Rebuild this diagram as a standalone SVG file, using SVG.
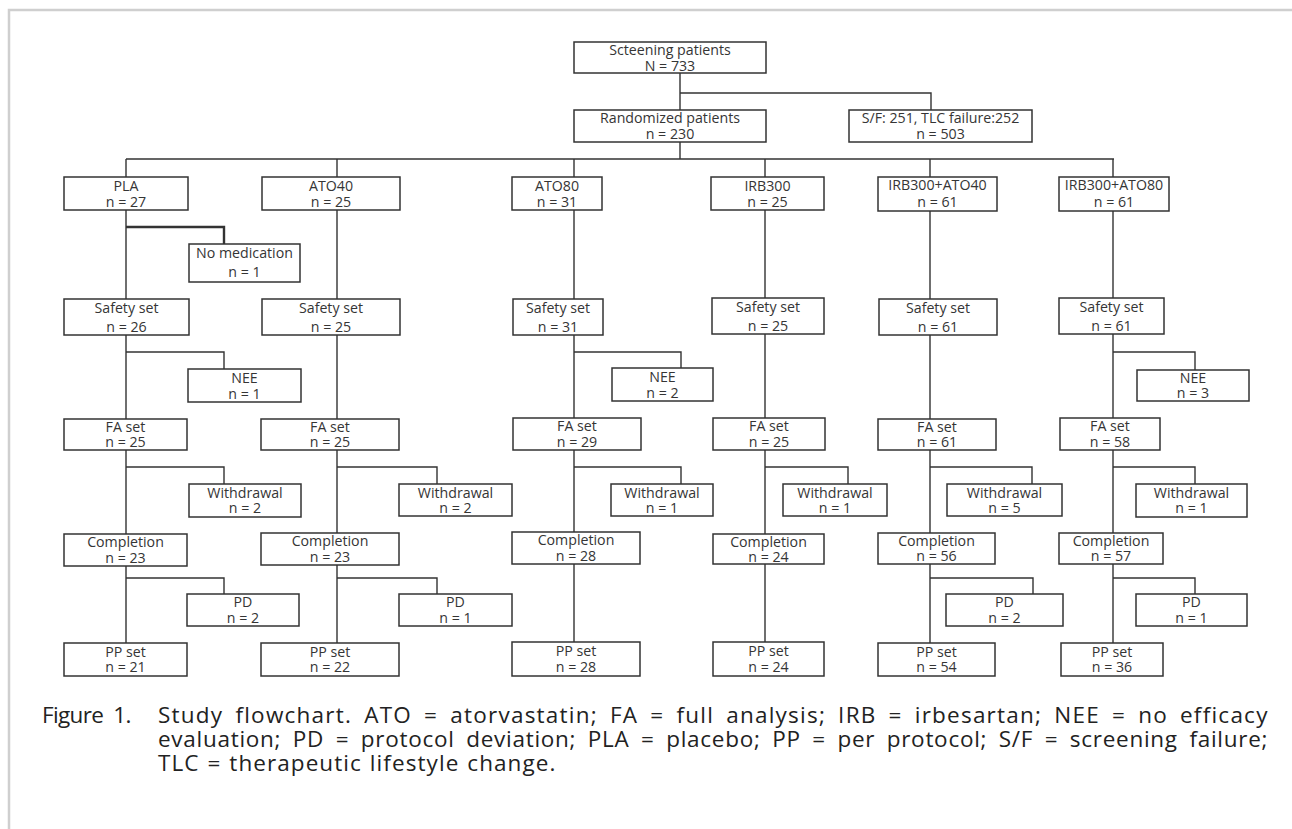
<svg xmlns="http://www.w3.org/2000/svg" width="1292" height="829" viewBox="0 0 1292 829">
<style>
.box{fill:#fff;stroke:#333;stroke-width:1.5}
.ln{fill:none;stroke:#333;stroke-width:1.4}
.thick{stroke-width:2.4}
text.t{font-family:"Open Sans","DejaVu Sans",sans-serif;font-size:14.2px;fill:#353535;text-anchor:middle}
text.cap{font-family:"Open Sans","DejaVu Sans",sans-serif;font-size:22.5px;fill:#222;letter-spacing:0.6px;word-spacing:5px}
text.cap.last{word-spacing:1px}
</style>
<rect x="0" y="0" width="1292" height="829" fill="#fff"/>
<path d="M9,829 V10 H1292" fill="none" stroke="#cfcfcf" stroke-width="2.5"/>

<g id="connectors">
<path class="ln" d="M680,73 V110 M680,93 H931 V110 M680,142 V159 M126,159 H1114"/>
<path class="ln" d="M126,159 V643 M337,159 V643 M574,159 V642 M765,159 V642 M930,159 V643 M1113,159 V643"/>
<path class="ln thick" d="M126,227 H224 V244"/>
<path class="ln" d="M126,352 H224 V369 M126,467 H224 V484 M126,578 H224 V594"/>
<path class="ln" d="M337,467 H437 V484 M337,578 H437 V594"/>
<path class="ln" d="M574,352 H681 V368 M574,467 H681 V484"/>
<path class="ln" d="M765,467 H848 V484"/>
<path class="ln" d="M930,467 H1032 V484 M930,578 H1033 V594"/>
<path class="ln" d="M1113,352 H1195 V370 M1113,467 H1195 V484 M1113,578 H1195 V594"/>
</g>

<g id="screening"><rect class="box" x="574" y="42" width="192" height="31"/><text class="t" x="670" y="54.5">Scteening patients</text><text class="t" x="670" y="70.5">N = 733</text></g>
<g id="randomized"><rect class="box" x="574" y="110" width="192" height="32"/><text class="t" x="670" y="123">Randomized patients</text><text class="t" x="670" y="139">n = 230</text></g>
<g id="sf"><rect class="box" x="849" y="110" width="183" height="32"/><text class="t" x="940.5" y="123">S/F: 251, TLC failure:252</text><text class="t" x="940.5" y="139">n = 503</text></g>

<g id="pla"><rect class="box" x="64" y="177" width="124" height="33"/><text class="t" x="126" y="190.5">PLA</text><text class="t" x="126" y="206.5">n = 27</text></g>
<g id="pla-nomed"><rect class="box" x="189" y="244" width="111" height="38"/><text class="t" x="244.5" y="258">No medication</text><text class="t" x="244.5" y="277">n = 1</text></g>
<g id="pla-safety"><rect class="box" x="64" y="299" width="125" height="36"/><text class="t" x="126.5" y="313">Safety set</text><text class="t" x="126.5" y="332">n = 26</text></g>
<g id="pla-nee"><rect class="box" x="188" y="369" width="113" height="33"/><text class="t" x="244.5" y="382.5">NEE</text><text class="t" x="244.5" y="398.5">n = 1</text></g>
<g id="pla-fa"><rect class="box" x="64" y="419" width="123" height="31"/><text class="t" x="125.5" y="432">FA set</text><text class="t" x="125.5" y="447">n = 25</text></g>
<g id="pla-wd"><rect class="box" x="189" y="484" width="112" height="33"/><text class="t" x="245" y="497.5">Withdrawal</text><text class="t" x="245" y="513">n = 2</text></g>
<g id="pla-comp"><rect class="box" x="64" y="534" width="123" height="32"/><text class="t" x="125.5" y="547">Completion</text><text class="t" x="125.5" y="562.5">n = 23</text></g>
<g id="pla-pd"><rect class="box" x="187" y="594" width="112" height="32"/><text class="t" x="243" y="606.5">PD</text><text class="t" x="243" y="622.5">n = 2</text></g>
<g id="pla-pp"><rect class="box" x="64" y="643" width="123" height="33"/><text class="t" x="125.5" y="656.5">PP set</text><text class="t" x="125.5" y="672">n = 21</text></g>

<g id="ato40"><rect class="box" x="262" y="177" width="138" height="33"/><text class="t" x="331" y="190.5">ATO40</text><text class="t" x="331" y="206.5">n = 25</text></g>
<g id="ato40-safety"><rect class="box" x="262" y="299" width="138" height="36"/><text class="t" x="331" y="313">Safety set</text><text class="t" x="331" y="332">n = 25</text></g>
<g id="ato40-fa"><rect class="box" x="261" y="419" width="138" height="31"/><text class="t" x="330" y="432">FA set</text><text class="t" x="330" y="447">n = 25</text></g>
<g id="ato40-wd"><rect class="box" x="399" y="484" width="113" height="32"/><text class="t" x="455.5" y="497.5">Withdrawal</text><text class="t" x="455.5" y="512.5">n = 2</text></g>
<g id="ato40-comp"><rect class="box" x="261" y="533" width="138" height="32"/><text class="t" x="330" y="546">Completion</text><text class="t" x="330" y="561.5">n = 23</text></g>
<g id="ato40-pd"><rect class="box" x="399" y="594" width="113" height="32"/><text class="t" x="455.5" y="606.5">PD</text><text class="t" x="455.5" y="622.5">n = 1</text></g>
<g id="ato40-pp"><rect class="box" x="261" y="643" width="138" height="33"/><text class="t" x="330" y="656.5">PP set</text><text class="t" x="330" y="672">n = 22</text></g>

<g id="ato80"><rect class="box" x="512" y="177" width="90" height="33"/><text class="t" x="557" y="190.5">ATO80</text><text class="t" x="557" y="206.5">n = 31</text></g>
<g id="ato80-safety"><rect class="box" x="513" y="299" width="90" height="36"/><text class="t" x="558" y="313">Safety set</text><text class="t" x="558" y="332">n = 31</text></g>
<g id="ato80-nee"><rect class="box" x="612" y="368" width="101" height="33"/><text class="t" x="662.5" y="381.5">NEE</text><text class="t" x="662.5" y="397.5">n = 2</text></g>
<g id="ato80-fa"><rect class="box" x="513" y="418" width="128" height="32"/><text class="t" x="577" y="431">FA set</text><text class="t" x="577" y="446.5">n = 29</text></g>
<g id="ato80-wd"><rect class="box" x="611" y="484" width="102" height="32"/><text class="t" x="662" y="497.5">Withdrawal</text><text class="t" x="662" y="512.5">n = 1</text></g>
<g id="ato80-comp"><rect class="box" x="512" y="532" width="128" height="32"/><text class="t" x="576" y="545">Completion</text><text class="t" x="576" y="560.5">n = 28</text></g>
<g id="ato80-pp"><rect class="box" x="512" y="642" width="128" height="34"/><text class="t" x="576" y="655.5">PP set</text><text class="t" x="576" y="672">n = 28</text></g>

<g id="irb300"><rect class="box" x="711" y="177" width="113" height="33"/><text class="t" x="767.5" y="190.5">IRB300</text><text class="t" x="767.5" y="206.5">n = 25</text></g>
<g id="irb300-safety"><rect class="box" x="712" y="298" width="112" height="36"/><text class="t" x="768" y="312">Safety set</text><text class="t" x="768" y="331">n = 25</text></g>
<g id="irb300-fa"><rect class="box" x="713" y="418" width="112" height="32"/><text class="t" x="769" y="431">FA set</text><text class="t" x="769" y="446.5">n = 25</text></g>
<g id="irb300-wd"><rect class="box" x="783" y="484" width="104" height="32"/><text class="t" x="835" y="497.5">Withdrawal</text><text class="t" x="835" y="512.5">n = 1</text></g>
<g id="irb300-comp"><rect class="box" x="713" y="534" width="111" height="30"/><text class="t" x="768.5" y="547">Completion</text><text class="t" x="768.5" y="562">n = 24</text></g>
<g id="irb300-pp"><rect class="box" x="713" y="642" width="111" height="34"/><text class="t" x="768.5" y="655.5">PP set</text><text class="t" x="768.5" y="672">n = 24</text></g>

<g id="irb-ato40"><rect class="box" x="878" y="177" width="119" height="34"/><text class="t" x="937.5" y="190">IRB300+ATO40</text><text class="t" x="937.5" y="207">n = 61</text></g>
<g id="irb-ato40-safety"><rect class="box" x="879" y="299" width="118" height="36"/><text class="t" x="938" y="313">Safety set</text><text class="t" x="938" y="332">n = 61</text></g>
<g id="irb-ato40-fa"><rect class="box" x="878" y="419" width="118" height="31"/><text class="t" x="937" y="432">FA set</text><text class="t" x="937" y="447">n = 61</text></g>
<g id="irb-ato40-wd"><rect class="box" x="947" y="484" width="115" height="32"/><text class="t" x="1004.5" y="497.5">Withdrawal</text><text class="t" x="1004.5" y="512.5">n = 5</text></g>
<g id="irb-ato40-comp"><rect class="box" x="878" y="533" width="117" height="31"/><text class="t" x="936.5" y="546">Completion</text><text class="t" x="936.5" y="561">n = 56</text></g>
<g id="irb-ato40-pd"><rect class="box" x="946" y="594" width="117" height="32"/><text class="t" x="1004.5" y="606.5">PD</text><text class="t" x="1004.5" y="622.5">n = 2</text></g>
<g id="irb-ato40-pp"><rect class="box" x="878" y="643" width="117" height="33"/><text class="t" x="936.5" y="656.5">PP set</text><text class="t" x="936.5" y="672">n = 54</text></g>

<g id="irb-ato80"><rect class="box" x="1059" y="177" width="110" height="34"/><text class="t" x="1114" y="190">IRB300+ATO80</text><text class="t" x="1114" y="207">n = 61</text></g>
<g id="irb-ato80-safety"><rect class="box" x="1059" y="298" width="105" height="36"/><text class="t" x="1111.5" y="312">Safety set</text><text class="t" x="1111.5" y="331">n = 61</text></g>
<g id="irb-ato80-nee"><rect class="box" x="1137" y="370" width="112" height="31"/><text class="t" x="1193" y="383">NEE</text><text class="t" x="1193" y="397.5">n = 3</text></g>
<g id="irb-ato80-fa"><rect class="box" x="1060" y="418" width="100" height="32"/><text class="t" x="1110" y="431">FA set</text><text class="t" x="1110" y="446.5">n = 58</text></g>
<g id="irb-ato80-wd"><rect class="box" x="1136" y="484" width="111" height="33"/><text class="t" x="1191.5" y="497.5">Withdrawal</text><text class="t" x="1191.5" y="513">n = 1</text></g>
<g id="irb-ato80-comp"><rect class="box" x="1059" y="533" width="104" height="31"/><text class="t" x="1111" y="546">Completion</text><text class="t" x="1111" y="561">n = 57</text></g>
<g id="irb-ato80-pd"><rect class="box" x="1136" y="594" width="111" height="32"/><text class="t" x="1191.5" y="606.5">PD</text><text class="t" x="1191.5" y="622.5">n = 1</text></g>
<g id="irb-ato80-pp"><rect class="box" x="1061" y="643" width="102" height="33"/><text class="t" x="1112" y="656.5">PP set</text><text class="t" x="1112" y="672">n = 36</text></g>

<g id="caption">
<text class="cap" x="42" y="723" textLength="90" lengthAdjust="spacing">Figure 1.</text>
<text class="cap" x="158" y="723" textLength="1110" lengthAdjust="spacing">Study flowchart. ATO = atorvastatin; FA = full analysis; IRB = irbesartan; NEE = no efficacy</text>
<text class="cap" x="158" y="747" textLength="1110" lengthAdjust="spacing">evaluation; PD = protocol deviation; PLA = placebo; PP = per protocol; S/F = screening failure;</text>
<text class="cap last" x="158" y="771" textLength="398" lengthAdjust="spacing">TLC = therapeutic lifestyle change.</text>
</g>
</svg>
